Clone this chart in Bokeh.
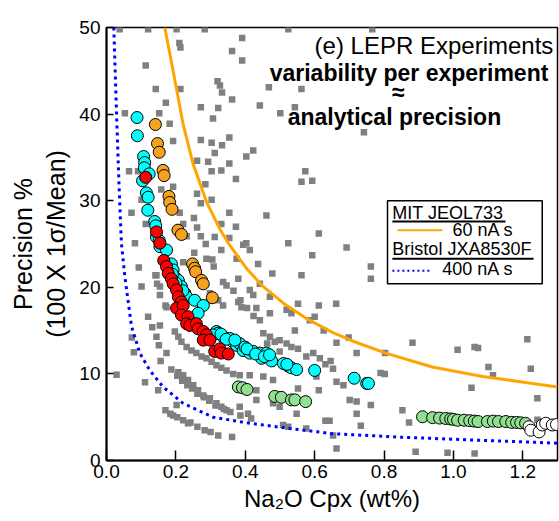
from bokeh.plotting import figure
from bokeh.models import Range1d, FixedTicker, Label, BoxAnnotation, PrintfTickFormatter
from bokeh.embed import file_html
from bokeh.resources import INLINE

# ---------------- data ----------------
x_ticks = [0.0, 0.2, 0.4, 0.6, 0.8, 1.0, 1.2]
y_ticks = [0, 10, 20, 30, 40, 50]

# model curves
orange_x = [0.168, 0.192, 0.221, 0.250, 0.288, 0.327, 0.351, 0.403, 0.451, 0.509, 0.576, 0.651, 0.709, 0.805, 0.939, 1.084, 1.228, 1.300]
orange_y = [50.0, 45.0, 38.8, 34.2, 29.9, 26.7, 25.1, 22.2, 20.1, 18.2, 16.4, 14.8, 13.8, 12.4, 10.8, 9.7, 8.9, 8.5]
blue_x = [0.021, 0.029, 0.037, 0.043, 0.053, 0.072, 0.096, 0.125, 0.163, 0.221, 0.307, 0.413, 0.528, 0.651, 0.844, 1.035, 1.300]
blue_y = [50.0, 40.0, 30.8, 25.1, 21.2, 15.5, 12.4, 10.4, 8.5, 6.6, 5.0, 4.3, 3.7, 3.1, 2.7, 2.4, 2.0]

# gray squares (all LEPR analyses)
gray_x = [0.038, 0.120, 0.202, 0.283, 0.524, 0.766, 0.210, 0.213, 0.391, 0.362, 0.391, 0.113,
          0.142, 0.213, 0.320, 0.327, 0.333, 0.362, 0.468, 0.562, 0.171, 0.272, 0.322, 0.442,
          0.501, 0.543, 0.053, 0.152, 0.307, 0.182, 0.192, 0.272, 0.303, 0.333, 0.354, 0.312,
          0.423, 0.403, 0.261, 0.293, 0.354, 0.065, 0.091, 0.303, 0.331, 0.373, 0.573, 0.562,
          0.593, 0.192, 0.285, 0.158, 0.261, 0.272, 0.303, 0.101, 0.072, 0.211, 0.252, 0.354,
          0.461, 0.113, 0.221, 0.261, 0.331, 0.373, 0.231, 0.272, 0.312, 0.354, 0.612, 0.082,
          0.403, 0.524, 0.742,
          0.286, 0.331, 0.394, 0.413, 0.593, 0.692, 0.093, 0.221, 0.253, 0.288, 0.305, 0.309,
          0.375, 0.437, 0.380, 0.144, 0.101, 0.154, 0.154, 0.336, 0.346, 0.413, 0.423, 0.478,
          0.562, 0.442, 0.471, 0.298, 0.322, 0.336, 0.380, 0.389, 0.432, 0.442, 0.471, 0.519,
          0.552, 0.612, 0.533, 0.600, 0.173, 0.120, 0.154, 0.762, 0.762, 0.662, 0.698, 0.626,
          0.543, 0.586, 0.132, 0.073, 0.151, 0.144,
          0.452, 0.471, 0.485, 0.499, 0.519, 0.533, 0.552, 0.576, 0.596, 0.615, 0.499, 0.663,
          0.721, 0.803, 0.882, 1.012, 1.061, 1.071, 1.213, 0.631, 0.646,
          0.197, 0.207, 0.216, 0.231, 0.245, 0.259, 0.274, 0.288, 0.303, 0.317, 0.331, 0.346,
          0.365, 0.384, 0.413, 0.452, 0.480, 0.605,
          0.079, 0.156, 0.187, 0.204, 0.218, 0.233, 0.247, 0.262, 0.281, 0.296, 0.314, 0.338,
          0.357, 0.386, 0.417, 0.408,
          0.432, 0.552, 0.612, 0.548, 0.499, 0.480, 0.432, 0.384, 0.653, 0.663, 0.683, 0.790,
          0.802, 1.101, 1.114, 1.223, 1.052, 0.701, 0.721, 0.762, 0.721, 0.733, 0.853, 0.872,
          1.242, 1.242, 0.631, 0.643, 0.509, 0.524, 0.576, 0.653,
          0.029, 0.111, 0.149, 0.170, 0.184, 0.192, 0.204, 0.221, 0.235, 0.242, 0.262, 0.283,
          0.300, 0.322, 0.362, 0.663, 0.891, 0.983, 1.061,
          0.141, 0.146, 0.170, 0.366, 0.386, 0.405, 0.424, 0.463,
          0.173, 0.207, 0.221, 0.235, 0.250, 0.264, 0.279, 0.298, 0.317, 0.331, 0.346, 0.202]
gray_y = [49.8, 49.8, 49.8, 49.8, 49.8, 49.8, 48.2, 47.7, 48.8, 47.3, 46.2, 45.6,
          42.9, 42.9, 43.8, 43.3, 42.5, 41.7, 43.1, 42.9, 41.3, 40.8, 40.7, 41.0,
          40.1, 40.8, 40.1, 40.1, 39.5, 38.9, 36.9, 37.0, 36.7, 36.4, 37.3, 35.5,
          35.8, 35.1, 34.6, 34.5, 34.3, 33.4, 33.4, 33.4, 33.5, 32.5, 33.4, 32.2,
          32.3, 31.6, 31.9, 31.3, 30.8, 29.7, 30.1, 30.1, 28.6, 28.6, 28.0, 28.6,
          28.3, 27.3, 27.3, 26.9, 27.3, 27.0, 25.9, 25.9, 25.8, 25.7, 26.2, 25.1,
          25.1, 25.1, 37.9,
          25.0, 24.3, 24.9, 24.3, 23.7, 24.6, 22.3, 22.9, 24.0, 23.3, 23.2, 22.4,
          23.3, 22.7, 21.0, 21.4, 20.1, 20.1, 19.1, 20.6, 20.2, 19.7, 19.1, 21.6,
          21.4, 20.4, 18.9, 19.3, 18.5, 17.9, 18.3, 17.7, 17.6, 16.2, 17.0, 17.4,
          18.1, 17.9, 17.0, 16.6, 17.7, 16.6, 15.6, 22.4, 21.0, 18.1, 14.2, 15.0,
          15.0, 16.2, 15.4, 14.2, 13.3, 14.3,
          14.7, 14.3, 13.7, 13.9, 13.5, 13.1, 12.9, 12.0, 12.4, 11.8, 12.6, 13.6,
          12.4, 12.4, 13.6, 12.8, 13.1, 13.0, 14.0, 11.1, 11.5,
          14.9, 14.3, 13.7, 13.1, 12.7, 12.4, 12.0, 11.8, 11.4, 11.0, 10.7, 10.4,
          10.0, 9.85, 9.85, 9.7, 9.3, 9.7,
          12.5, 11.5, 10.5, 9.8, 9.2, 8.7, 8.3, 7.7, 7.3, 6.9, 6.35, 5.95,
          5.6, 5.2, 4.85, 5.4,
          8.1, 8.3, 8.1, 5.4, 6.2, 6.6, 7.0, 6.2, 10.6, 9.1, 8.7, 10.1,
          10.0, 10.8, 9.85, 10.6, 8.4, 7.0, 6.8, 6.4, 5.4, 4.0, 5.8, 4.4,
          7.2, 4.7, 4.6, 4.6, 4.1, 3.9, 3.7, 2.9,
          9.9, 9.05, 8.1, 5.8, 5.4, 5.2, 5.0, 4.65, 4.3, 4.4, 3.9, 3.5,
          3.3, 2.9, 2.7, 1.4, 1.0, 0.9, 0.8,
          21.4, 20.4, 17.9, 19.6, 18.5, 17.6, 16.7, 13.5,
          12.4, 10.2, 9.85, 9.3, 8.7, 8.1, 7.5, 7.2, 6.6, 6.2, 5.8, 6.4]

# individual experiments
cyan_x = [0.088, 0.089, 0.107, 0.110, 0.109, 0.123, 0.104, 0.115, 0.120, 0.119, 0.139, 0.142,
          0.144, 0.152, 0.154, 0.173, 0.187, 0.192, 0.197, 0.207, 0.216, 0.226, 0.231, 0.254,
          0.279, 0.264, 0.317, 0.322, 0.307, 0.336, 0.355, 0.365, 0.375, 0.384, 0.394, 0.399,
          0.413, 0.423, 0.442, 0.447, 0.461, 0.476, 0.524, 0.533, 0.548, 0.600, 0.714, 0.750,
          0.755, 0.330, 0.345, 0.370, 0.405, 0.430, 0.455, 0.470, 0.510, 0.520, 0.190, 0.200,
          0.220]
cyan_y = [39.6, 37.5, 35.1, 34.4, 33.8, 33.1, 32.3, 30.9, 30.4, 28.9, 27.6, 27.1,
          25.8, 25.4, 24.7, 24.3, 22.7, 22.0, 21.2, 20.8, 20.1, 19.3, 18.9, 18.5,
          17.9, 17.0, 14.9, 14.7, 14.5, 14.3, 14.1, 13.7, 13.3, 13.5, 12.7, 13.1,
          12.4, 12.6, 12.4, 11.8, 12.4, 11.5, 10.9, 10.7, 10.5, 10.4, 9.5, 8.9,
          8.9, 14.6, 14.0, 13.9, 12.9, 12.3, 12.0, 12.2, 11.2, 11.1, 21.5, 20.5,
          19.6]
red_x = [0.113, 0.144, 0.154, 0.165, 0.173, 0.178, 0.187, 0.192, 0.202, 0.207, 0.216, 0.202,
         0.221, 0.216, 0.235, 0.231, 0.240, 0.259, 0.264, 0.279, 0.288, 0.279, 0.298, 0.312,
         0.327, 0.331, 0.351]
red_y = [32.7, 26.4, 25.1, 23.1, 22.4, 21.6, 21.0, 20.4, 19.7, 18.9, 18.3, 17.6,
         17.9, 16.8, 16.6, 15.8, 15.6, 15.8, 15.2, 14.9, 14.5, 13.9, 13.9, 12.6,
         12.9, 12.4, 12.3]
amber_x = [0.141, 0.147, 0.152, 0.163, 0.166, 0.180, 0.182, 0.189, 0.206, 0.216, 0.248, 0.254,
           0.257, 0.274, 0.279, 0.305]
amber_y = [38.8, 36.6, 35.6, 33.5, 32.9, 30.5, 29.8, 29.0, 26.6, 26.1, 22.7, 22.2,
           21.8, 20.8, 20.4, 18.8]
green_x = [0.380, 0.392, 0.405, 0.485, 0.504, 0.533, 0.543, 0.574, 0.911, 0.940, 0.960, 0.978,
           0.992, 1.000, 1.012, 1.031, 1.047, 1.060, 1.071, 1.098, 1.115, 1.130, 1.151, 1.168,
           1.182, 1.194, 1.208]
green_y = [8.5, 8.4, 8.2, 7.4, 7.3, 7.0, 7.0, 6.8, 5.05, 4.95, 4.9, 4.85,
           4.8, 4.75, 4.65, 4.65, 4.6, 4.55, 4.5, 4.5, 4.55, 4.5, 4.5, 4.4,
           4.4, 4.35, 4.3]
white_x = [1.218, 1.223, 1.247, 1.256, 1.266, 1.285, 1.297]
white_y = [3.9, 3.5, 3.3, 4.1, 4.3, 4.1, 4.15]

FONT = "Liberation Sans"

# ---------------- figure ----------------
p = figure(width=559, height=521, x_range=Range1d(0, 1.3), y_range=Range1d(0, 50),
           output_backend="svg", toolbar_location=None, title=None,
           min_border_left=106, min_border_right=2, min_border_top=27, min_border_bottom=61)
p.xgrid.visible = False
p.ygrid.visible = False
p.outline_line_color = "black"
p.outline_line_width = 1.5
p.outline_line_alpha = 1.0
p.background_fill_color = "white"
p.border_fill_color = "white"

for ax in (p.xaxis, p.yaxis):
    ax.axis_line_width = 2
    ax.axis_line_color = "black"
    ax.major_tick_out = 0
    ax.minor_tick_in = 0
    ax.minor_tick_out = 0
    ax.major_tick_line_width = 1.5
    ax.major_tick_line_color = "black"
    ax.major_label_text_font = FONT
    ax.major_label_text_font_size = "19px"
    ax.major_label_text_color = "black"
    ax.axis_label_text_font = FONT
    ax.axis_label_text_font_style = "normal"
    ax.axis_label_text_color = "black"

p.xaxis.ticker = FixedTicker(ticks=x_ticks)
p.yaxis.ticker = FixedTicker(ticks=y_ticks)
p.xaxis.formatter = PrintfTickFormatter(format="%.1f")
p.yaxis.formatter = PrintfTickFormatter(format="%d")
p.xaxis.major_tick_in = 10
p.yaxis.major_tick_in = 7
p.xaxis.major_label_standoff = 4
p.yaxis.major_label_standoff = 6
p.xaxis.axis_label = "Na\u2082O Cpx (wt%)"
p.xaxis.axis_label_text_font_size = "24px"
p.xaxis.axis_label_standoff = 4
p.yaxis.axis_label = "Precision %\n(100 X 1\u03c3/Mean)"
p.yaxis.axis_label_text_font_size = "25px"
p.yaxis.axis_label_standoff = 6

# gray squares
p.scatter(gray_x, gray_y, marker="square", size=6.5, fill_color="#808080", line_color=None)

# curves
p.line(orange_x, orange_y, line_color="#FFA500", line_width=3)
p.line(blue_x, blue_y, line_color="#0000FF", line_width=3, line_dash="3 4")

# experiments
kw = dict(size=12, line_color="black", line_width=1)
p.scatter(cyan_x, cyan_y, fill_color="#00FFFF", **kw)
p.scatter(amber_x, amber_y, fill_color="#F5A21E", **kw)
p.scatter(red_x, red_y, fill_color="#FF0000", **kw)
p.scatter(green_x, green_y, fill_color="#90E090", **kw)
p.scatter(white_x, white_y, fill_color="white", **kw)

# titles inside the frame
p.add_layout(Label(x=1.288, y=47.9, text="(e) LEPR Experiments", text_align="right",
                   text_baseline="alphabetic", text_font=FONT, text_font_size="24px",
                   text_color="black"))
p.add_layout(Label(x=0.872, y=44.8, text="variability per experiment", text_align="center",
                   text_baseline="alphabetic", text_font=FONT, text_font_size="23px",
                   text_font_style="bold", text_color="black"))
p.add_layout(Label(x=0.841, y=42.5, text="\u2248", text_align="center",
                   text_baseline="middle", text_font=FONT, text_font_size="23px",
                   text_font_style="bold", text_color="black"))
p.add_layout(Label(x=0.830, y=39.7, text="analytical precision", text_align="center",
                   text_baseline="alphabetic", text_font=FONT, text_font_size="23px",
                   text_font_style="bold", text_color="black"))

# legend box
p.add_layout(BoxAnnotation(left=0.810, right=1.256, bottom=20.4, top=30.0,
                           fill_color="white", fill_alpha=1.0, line_color="black",
                           line_width=1.5, line_alpha=1.0))
leg_txt = dict(text_baseline="alphabetic", text_font=FONT, text_font_size="18px",
               text_color="black")
p.add_layout(Label(x=0.824, y=28.6, text="MIT JEOL733", **leg_txt))
p.add_layout(Label(x=0.997, y=26.6, text="60 nA s", **leg_txt))
p.add_layout(Label(x=0.824, y=24.4, text="Bristol JXA8530F", **leg_txt))
p.add_layout(Label(x=0.968, y=22.1, text="400 nA s", **leg_txt))
r = p.segment(x0=[0.824, 0.824], y0=[27.6, 23.3], x1=[1.150, 1.231], y1=[27.6, 23.3],
              line_color="black", line_width=2)
r.level = "overlay"
r = p.segment(x0=[0.839], y0=[26.6], x1=[0.968], y1=[26.6], line_color="#FFA500", line_width=2)
r.level = "overlay"
r = p.segment(x0=[0.824], y0=[21.9], x1=[0.934], y1=[21.9], line_color="#0000FF",
              line_width=2, line_dash="2 3")
r.level = "overlay"

open("out.html", "w").write(file_html(p, INLINE))
